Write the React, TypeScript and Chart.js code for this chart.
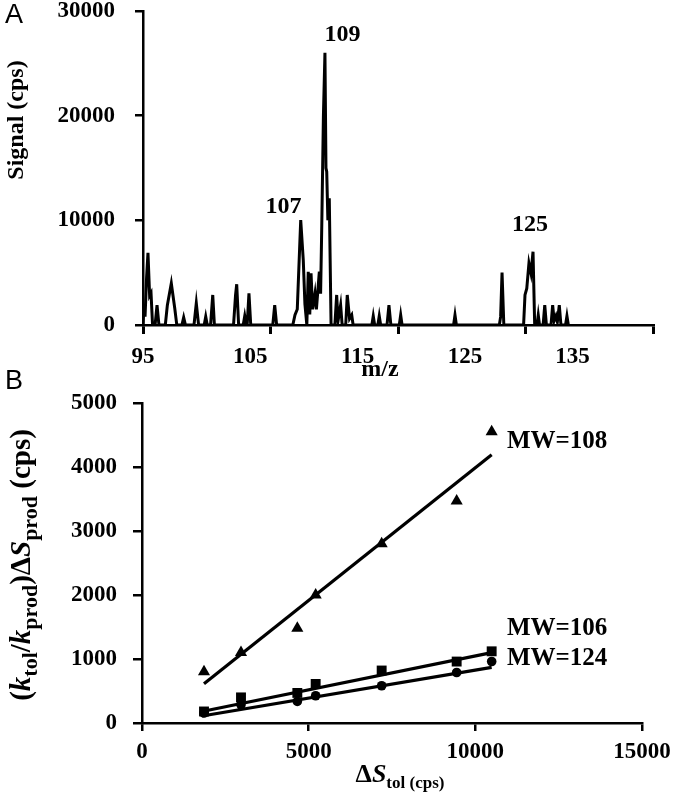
import React, { useEffect, useRef } from "react";
import { Chart, registerables } from "chart.js";

Chart.register(...registerables);

const SERIF = "'Liberation Serif', 'Times New Roman', serif";
const SANS = "'Liberation Sans', Arial, sans-serif";

// ---------------- Panel A: mass spectrum ----------------
const spectrumMz = [
  95.0, 95.08, 95.16, 95.28, 95.39, 95.52, 95.63, 95.75, 95.95, 96.1, 96.25, 96.75, 96.91, 97.22, 97.49, 97.65,
  98.05, 98.19, 98.33, 99.0, 99.18, 99.36, 99.8, 99.92, 100.04, 100.3, 100.47, 100.6, 102.1, 102.26, 102.35, 102.5,
  102.86, 102.98, 103.1, 103.17, 103.31, 103.45, 105.18, 105.33, 105.48, 106.75, 106.92, 107.1, 107.37, 107.57,
  107.7, 107.85, 107.96, 108.08, 108.18, 108.3, 108.49, 108.6, 108.83, 108.93, 109.02, 109.15, 109.27, 109.35,
  109.41, 109.5, 109.61, 109.75, 110.05, 110.19, 110.3, 110.5, 110.62, 110.9, 111.02, 111.2, 111.37, 111.48,
  112.95, 113.06, 113.17, 113.42, 113.53, 113.64, 114.14, 114.29, 114.44, 115.1, 115.21, 115.32, 119.36, 119.47,
  119.58, 122.95, 123.05, 123.16, 123.3, 124.85, 124.96, 125.1, 125.27, 125.43, 125.59, 125.72, 125.9, 126.0,
  126.1, 126.38, 126.51, 126.64, 127.0, 127.13, 127.25, 127.39, 127.5, 127.65, 127.78, 128.14, 128.25, 128.36,
];
const spectrumSignal = [
  0, 1900, 800, 4500, 6900, 2800, 3050, 0, 0, 1900, 0, 0, 1900, 3980, 1600, 0,
  0, 730, 0, 0, 2070, 0, 0, 800, 0, 0, 2870, 0, 0, 2870, 3890, 0,
  0, 860, 0, 0, 3030, 0, 0, 1900, 0, 0, 955, 1500, 10030, 6200,
  2000, 0, 5090, 1000, 4940, 1500, 3030, 1500, 5090, 3000, 9390, 20000, 26000, 15000,
  14650, 10000, 12100, 0, 0, 2870, 400, 1900, 0, 0, 2870, 600, 955, 0,
  0, 860, 0, 0, 860, 0, 0, 1900, 0, 0, 955, 0, 0, 955,
  0, 0, 800, 5000, 0, 0, 2870, 3500, 5900, 4940, 7000, 0, 0, 955,
  0, 0, 1900, 0, 0, 1900, 400, 860, 300, 1900, 0, 0, 860, 0,
];
const spectrumXTicks = [95, 105, 115, 125, 135];
const spectrumYTicks = [0, 10000, 20000, 30000];
const peakLabels = ["107", "109", "125"];
const peakLabelMz = [106.02, 110.65, 125.35];
const peakLabelSignal = [11270, 27700, 9550];

// ---------------- Panel B: calibration plot ----------------
const deltaTol = [1860, 2970, 4660, 5210, 7190, 9440, 10490];
const mw108 = [800, 1100, 1480, 2000, 2800, 3470, 4550];
const mw106 = [180, 400, 470, 610, 820, 960, 1120];
const mw124 = [156, 285, 337, 426, 582, 789, 961];
const fit108X = [1860, 10490];
const fit108Y = [615, 4190];
const fit106X = [1800, 10490];
const fit106Y = [180, 1100];
const fit124X = [1800, 10490];
const fit124Y = [110, 870];
const seriesLabels = ["MW=108", "MW=106", "MW=124"];
const seriesLabelX = [10950, 10950, 10950];
const seriesLabelY = [4400, 1480, 1000];

type Run = { t: string; i?: boolean; sub?: boolean };
const yTitleB: Run[] = [
  { t: "(" }, { t: "k", i: true }, { t: "tol", sub: true }, { t: "/" }, { t: "k", i: true },
  { t: "prod", sub: true }, { t: ")" }, { t: "\u0394" }, { t: "S", i: true }, { t: "prod", sub: true }, { t: " (cps)" },
];
const xTitleB: Run[] = [{ t: "\u0394" }, { t: "S", i: true }, { t: "tol (cps)", sub: true }];
const yTitleA: Run[] = [{ t: "Signal (cps)" }];

function drawRuns(ctx: CanvasRenderingContext2D, runs: Run[], x: number, y: number, size: number, subSize: number, rotate: boolean) {
  ctx.save();
  ctx.translate(x, y);
  if (rotate) ctx.rotate(-Math.PI / 2);
  ctx.fillStyle = "#000";
  ctx.textBaseline = "alphabetic";
  ctx.textAlign = "left";
  const font = (r: Run) => `${r.i ? "italic " : ""}bold ${r.sub ? subSize : size}px ${SERIF}`;
  const widths = runs.map((r) => { ctx.font = font(r); return ctx.measureText(r.t).width; });
  const total = widths.reduce((a, b) => a + b, 0);
  let cx = -total / 2;
  const base = size * 0.33;
  runs.forEach((r, k) => {
    ctx.font = font(r);
    ctx.fillText(r.t, cx, base + (r.sub ? size * 0.25 : 0));
    cx += widths[k];
  });
  ctx.restore();
}

const richText = {
  id: "richText",
  afterDraw(chart: any, _a: any, opts: any) {
    const ctx = chart.ctx as CanvasRenderingContext2D;
    (opts.items || []).forEach((it: any) => {
      if (it.sans) {
        ctx.save();
        ctx.fillStyle = "#000";
        ctx.font = `${it.size}px ${SANS}`;
        ctx.textAlign = "center";
        ctx.textBaseline = "middle";
        ctx.fillText(it.text, it.x, it.y);
        ctx.restore();
      } else {
        drawRuns(ctx, it.runs, it.x, it.y, it.size, it.subSize, !!it.rotate);
      }
    });
  },
};

const annotate = {
  id: "annotate",
  afterDatasetsDraw(chart: any, _a: any, opts: any) {
    const ctx = chart.ctx as CanvasRenderingContext2D;
    const xs = chart.scales.x;
    const ys = chart.scales.y;
    ctx.save();
    ctx.fillStyle = "#000";
    ctx.font = `bold ${opts.size}px ${SERIF}`;
    ctx.textAlign = opts.align;
    ctx.textBaseline = "middle";
    (opts.texts as string[]).forEach((t, k) => {
      ctx.fillText(t, xs.getPixelForValue(opts.xs[k]), ys.getPixelForValue(opts.ys[k]));
    });
    ctx.restore();
  },
};

const zeroPad = (s: any) => {
  s.paddingLeft = 0;
  s.paddingRight = 0;
  s.paddingTop = 0;
  s.paddingBottom = 0;
};
const setTicks = (vals: number[]) => (s: any) => { s.ticks = vals.map((v) => ({ value: v })); };

const tickFont = { family: SERIF, size: 23, weight: "bold" as const };
const axisGrid = (len: number) => ({ drawOnChartArea: false, drawTicks: true, tickLength: len, color: "#000", lineWidth: 2.5 });
const axisBorder = { color: "#000", width: 2.5 };

export default function App() {
  const refA = useRef<HTMLCanvasElement>(null);
  const refB = useRef<HTMLCanvasElement>(null);

  useEffect(() => {
    const chartA = new Chart(refA.current!, {
      type: "line",
      data: {
        datasets: [
          {
            data: spectrumMz.map((x, k) => ({ x, y: spectrumSignal[k] })),
            borderColor: "#000",
            borderWidth: 3,
            pointRadius: 0,
            tension: 0,
            fill: false,
          },
        ],
      },
      options: {
        animation: false,
        responsive: false,
        events: [],
        layout: { padding: { left: 0, top: 11, right: 24, bottom: 0 } },
        plugins: {
          legend: { display: false },
          tooltip: { enabled: false },
          annotate: { texts: peakLabels, xs: peakLabelMz, ys: peakLabelSignal, size: 24, align: "center" },
          richText: {
            items: [
              { sans: true, text: "A", x: 14, y: 16, size: 27 },
              { runs: yTitleA, x: 15, y: 120, size: 24, subSize: 17, rotate: true },
            ],
          },
        } as any,
        scales: {
          x: {
            type: "linear",
            position: "bottom",
            min: 95,
            max: 135,
            afterBuildTicks: setTicks(spectrumXTicks),
            ticks: { callback: () => "", padding: 0, autoSkip: false, maxRotation: 0 },
            grid: { drawOnChartArea: false, drawTicks: true, tickLength: 9, color: "#000", lineWidth: 3 },
            border: axisBorder,
            afterFit: (s: any) => { zeroPad(s); s.height = 9; },
          },
          x2: {
            type: "linear",
            position: "bottom",
            min: 95,
            max: 142.5,
            afterBuildTicks: setTicks(spectrumXTicks),
            ticks: { padding: 1, color: "#000", font: tickFont, maxRotation: 0, autoSkip: false, callback: (v: any) => String(v) },
            grid: { display: false },
            border: { display: false },
            title: { display: true, text: "m/z      ", color: "#000", font: { family: SERIF, size: 24, weight: "bold" }, padding: { top: 0, bottom: 1 } },
            afterFit: (s: any) => { zeroPad(s); s.height = 51; },
          },
          y: {
            type: "linear",
            min: 0,
            max: 30000,
            afterBuildTicks: setTicks(spectrumYTicks),
            ticks: { padding: 20, color: "#000", font: tickFont, autoSkip: false, callback: (v: any) => String(v) },
            grid: axisGrid(8),
            border: axisBorder,
            afterFit: (s: any) => { zeroPad(s); s.width = 143; },
          },
        },
      },
      plugins: [annotate, richText],
    } as any);

    const pointDs = (data: number[], style: string, radius: number) => ({
      data: deltaTol.map((x, k) => ({ x, y: data[k] })),
      pointStyle: style,
      pointRadius: radius,
      backgroundColor: "#000",
      borderColor: "#000",
      borderWidth: 0,
      showLine: false,
    });
    const fitDs = (xs: number[], ys: number[]) => ({
      data: xs.map((x, k) => ({ x, y: ys[k] })),
      showLine: true,
      borderColor: "#000",
      borderWidth: 3.2,
      pointRadius: 0,
      tension: 0,
    });

    const chartB = new Chart(refB.current!, {
      type: "scatter",
      data: {
        datasets: [
          fitDs(fit108X, fit108Y),
          fitDs(fit106X, fit106Y),
          fitDs(fit124X, fit124Y),
          pointDs(mw108, "triangle", 7),
          pointDs(mw106, "rect", 7),
          pointDs(mw124, "circle", 4.8),
        ],
      },
      options: {
        animation: false,
        responsive: false,
        events: [],
        layout: { padding: { left: 0, top: 43, right: 35, bottom: 0 } },
        plugins: {
          legend: { display: false },
          tooltip: { enabled: false },
          annotate: { texts: seriesLabels, xs: seriesLabelX, ys: seriesLabelY, size: 25, align: "left" },
          richText: {
            items: [
              { sans: true, text: "B", x: 14, y: 22, size: 27 },
              { runs: yTitleB, x: 20, y: 205, size: 29, subSize: 22, rotate: true },
              { runs: xTitleB, x: 400, y: 413, size: 26, subSize: 17, rotate: false },
            ],
          },
        } as any,
        scales: {
          x: {
            type: "linear",
            min: 0,
            max: 15000,
            ticks: { stepSize: 5000, padding: 7, color: "#000", font: tickFont, maxRotation: 0, callback: (v: any) => String(v) },
            grid: axisGrid(8),
            border: axisBorder,
            afterFit: (s: any) => { zeroPad(s); s.height = 79; },
          },
          y: {
            type: "linear",
            min: 0,
            max: 5000,
            ticks: { stepSize: 1000, padding: 16, color: "#000", font: tickFont, callback: (v: any) => String(v) },
            grid: axisGrid(9),
            border: axisBorder,
            afterFit: (s: any) => { zeroPad(s); s.width = 142; },
          },
        },
      },
      plugins: [annotate, richText],
    } as any);

    return () => {
      chartA.destroy();
      chartB.destroy();
    };
  }, []);

  return (
    <div style={{ position: "fixed", left: 0, top: 0, width: 677, height: 802, background: "#fff" }}>
      <canvas ref={refA} width={677} height={385} style={{ position: "absolute", left: 0, top: 0 }} />
      <canvas ref={refB} width={677} height={442} style={{ position: "absolute", left: 0, top: 360 }} />
    </div>
  );
}
